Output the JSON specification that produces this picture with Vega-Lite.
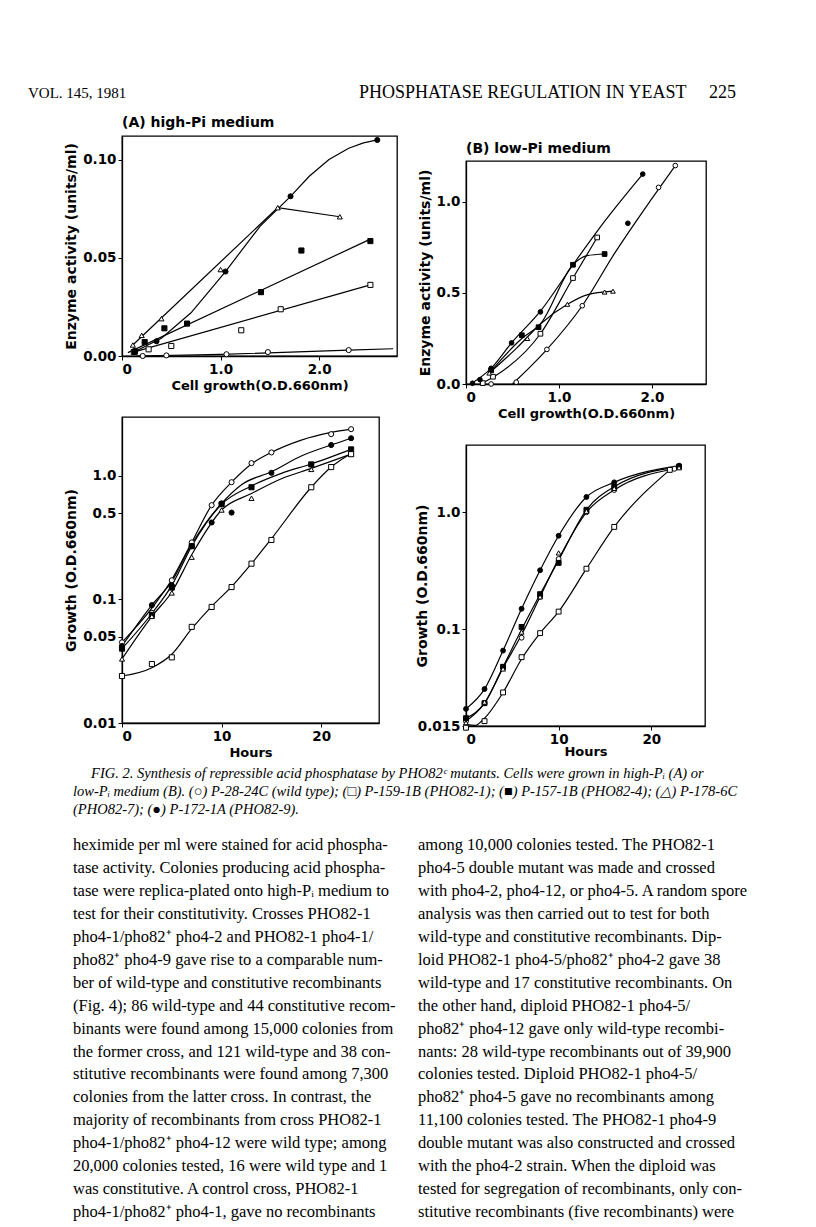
{
  "$schema": "https://vega.github.io/schema/vega-lite/v6.json",
  "background": "white",
  "autosize": {"type": "pad"},
  "padding": {"left": 28, "top": 71, "right": 0, "bottom": 0},
  "spacing": 0,
  "datasets": {
    "header": [
      {"col": "L", "text": "VOL. 145, 1981"},
      {"col": "R", "text": "PHOSPHATASE REGULATION IN YEAST\u00a0\u00a0\u00a0\u00a0\u00a0225"}
    ],
    "caption": [
      {"col": "C", "line": 1, "text": "\u200b\u00a0\u00a0\u00a0\u00a0\u00a0FIG. 2. Synthesis of repressible acid phosphatase by PHO82\u1d9c mutants. Cells were grown in high-P\u1d62 (A) or"},
      {"col": "C", "line": 2, "text": "low-P\u1d62 medium (B). (\u25cb) P-28-24C (wild type); (\u25a1) P-159-1B (PHO82-1); (\u25a0) P-157-1B (PHO82-4); (\u25b3) P-178-6C"},
      {"col": "C", "line": 3, "text": "(PHO82-7); (\u25cf) P-172-1A (PHO82-9)."}
    ],
    "body": [
      {"col": "L", "line": 1, "text": "heximide per ml were stained for acid phospha-"},
      {"col": "L", "line": 2, "text": "tase activity. Colonies producing acid phospha-"},
      {"col": "L", "line": 3, "text": "tase were replica-plated onto high-P\u1d62 medium to"},
      {"col": "L", "line": 4, "text": "test for their constitutivity. Crosses PHO82-1"},
      {"col": "L", "line": 5, "text": "pho4-1/pho82\u207a pho4-2 and PHO82-1 pho4-1/"},
      {"col": "L", "line": 6, "text": "pho82\u207a pho4-9 gave rise to a comparable num-"},
      {"col": "L", "line": 7, "text": "ber of wild-type and constitutive recombinants"},
      {"col": "L", "line": 8, "text": "(Fig. 4); 86 wild-type and 44 constitutive recom-"},
      {"col": "L", "line": 9, "text": "binants were found among 15,000 colonies from"},
      {"col": "L", "line": 10, "text": "the former cross, and 121 wild-type and 38 con-"},
      {"col": "L", "line": 11, "text": "stitutive recombinants were found among 7,300"},
      {"col": "L", "line": 12, "text": "colonies from the latter cross. In contrast, the"},
      {"col": "L", "line": 13, "text": "majority of recombinants from cross PHO82-1"},
      {"col": "L", "line": 14, "text": "pho4-1/pho82\u207a pho4-12 were wild type; among"},
      {"col": "L", "line": 15, "text": "20,000 colonies tested, 16 were wild type and 1"},
      {"col": "L", "line": 16, "text": "was constitutive. A control cross, PHO82-1"},
      {"col": "L", "line": 17, "text": "pho4-1/pho82\u207a pho4-1, gave no recombinants"},
      {"col": "R", "line": 1, "text": "among 10,000 colonies tested. The PHO82-1"},
      {"col": "R", "line": 2, "text": "pho4-5 double mutant was made and crossed"},
      {"col": "R", "line": 3, "text": "with pho4-2, pho4-12, or pho4-5. A random spore"},
      {"col": "R", "line": 4, "text": "analysis was then carried out to test for both"},
      {"col": "R", "line": 5, "text": "wild-type and constitutive recombinants. Dip-"},
      {"col": "R", "line": 6, "text": "loid PHO82-1 pho4-5/pho82\u207a pho4-2 gave 38"},
      {"col": "R", "line": 7, "text": "wild-type and 17 constitutive recombinants. On"},
      {"col": "R", "line": 8, "text": "the other hand, diploid PHO82-1 pho4-5/"},
      {"col": "R", "line": 9, "text": "pho82\u207a pho4-12 gave only wild-type recombi-"},
      {"col": "R", "line": 10, "text": "nants: 28 wild-type recombinants out of 39,900"},
      {"col": "R", "line": 11, "text": "colonies tested. Diploid PHO82-1 pho4-5/"},
      {"col": "R", "line": 12, "text": "pho82\u207a pho4-5 gave no recombinants among"},
      {"col": "R", "line": 13, "text": "11,100 colonies tested. The PHO82-1 pho4-9"},
      {"col": "R", "line": 14, "text": "double mutant was also constructed and crossed"},
      {"col": "R", "line": 15, "text": "with the pho4-2 strain. When the diploid was"},
      {"col": "R", "line": 16, "text": "tested for segregation of recombinants, only con-"},
      {"col": "R", "line": 17, "text": "stitutive recombinants (five recombinants) were"}
    ],
    "pts": [
      {"panel": "A", "strain": "wild type", "x": 0.21, "y": 0.0},
      {"panel": "A", "strain": "wild type", "x": 0.45, "y": 0.0003},
      {"panel": "A", "strain": "wild type", "x": 1.06, "y": 0.0009},
      {"panel": "A", "strain": "wild type", "x": 1.48, "y": 0.002},
      {"panel": "A", "strain": "wild type", "x": 2.30, "y": 0.003},
      {"panel": "A", "strain": "PHO82-1", "x": 0.12, "y": 0.002},
      {"panel": "A", "strain": "PHO82-1", "x": 0.27, "y": 0.0034},
      {"panel": "A", "strain": "PHO82-1", "x": 0.50, "y": 0.0051},
      {"panel": "A", "strain": "PHO82-1", "x": 1.21, "y": 0.0131},
      {"panel": "A", "strain": "PHO82-1", "x": 1.61, "y": 0.0238},
      {"panel": "A", "strain": "PHO82-1", "x": 2.52, "y": 0.0362},
      {"panel": "A", "strain": "PHO82-4", "x": 0.13, "y": 0.0022},
      {"panel": "A", "strain": "PHO82-4", "x": 0.23, "y": 0.0071},
      {"panel": "A", "strain": "PHO82-4", "x": 0.43, "y": 0.0141},
      {"panel": "A", "strain": "PHO82-4", "x": 0.66, "y": 0.0165},
      {"panel": "A", "strain": "PHO82-4", "x": 1.41, "y": 0.0325},
      {"panel": "A", "strain": "PHO82-4", "x": 1.82, "y": 0.0537},
      {"panel": "A", "strain": "PHO82-4", "x": 2.52, "y": 0.0585},
      {"panel": "A", "strain": "PHO82-7", "x": 0.11, "y": 0.0056},
      {"panel": "A", "strain": "PHO82-7", "x": 0.20, "y": 0.0105},
      {"panel": "A", "strain": "PHO82-7", "x": 0.40, "y": 0.019},
      {"panel": "A", "strain": "PHO82-7", "x": 1.00, "y": 0.044},
      {"panel": "A", "strain": "PHO82-7", "x": 1.58, "y": 0.0755},
      {"panel": "A", "strain": "PHO82-7", "x": 2.21, "y": 0.0709},
      {"panel": "A", "strain": "PHO82-9", "x": 0.13, "y": 0.0026},
      {"panel": "A", "strain": "PHO82-9", "x": 0.35, "y": 0.0075},
      {"panel": "A", "strain": "PHO82-9", "x": 1.05, "y": 0.043},
      {"panel": "A", "strain": "PHO82-9", "x": 1.71, "y": 0.0813},
      {"panel": "A", "strain": "PHO82-9", "x": 2.59, "y": 0.110},

      {"panel": "B", "strain": "wild type", "x": 0.27, "y": 0.0},
      {"panel": "B", "strain": "wild type", "x": 0.54, "y": 0.01},
      {"panel": "B", "strain": "wild type", "x": 0.87, "y": 0.19},
      {"panel": "B", "strain": "wild type", "x": 1.25, "y": 0.43},
      {"panel": "B", "strain": "wild type", "x": 2.07, "y": 1.08},
      {"panel": "B", "strain": "wild type", "x": 2.25, "y": 1.20},
      {"panel": "B", "strain": "PHO82-1", "x": 0.18, "y": 0.005},
      {"panel": "B", "strain": "PHO82-1", "x": 0.29, "y": 0.04},
      {"panel": "B", "strain": "PHO82-1", "x": 0.80, "y": 0.276},
      {"panel": "B", "strain": "PHO82-1", "x": 1.15, "y": 0.582},
      {"panel": "B", "strain": "PHO82-1", "x": 1.41, "y": 0.805},
      {"panel": "B", "strain": "PHO82-4", "x": 0.27, "y": 0.075},
      {"panel": "B", "strain": "PHO82-4", "x": 0.60, "y": 0.268},
      {"panel": "B", "strain": "PHO82-4", "x": 0.78, "y": 0.312},
      {"panel": "B", "strain": "PHO82-4", "x": 1.15, "y": 0.655},
      {"panel": "B", "strain": "PHO82-4", "x": 1.49, "y": 0.714},
      {"panel": "B", "strain": "PHO82-7", "x": 0.25, "y": 0.06},
      {"panel": "B", "strain": "PHO82-7", "x": 0.66, "y": 0.25},
      {"panel": "B", "strain": "PHO82-7", "x": 1.09, "y": 0.438},
      {"panel": "B", "strain": "PHO82-7", "x": 1.49, "y": 0.505},
      {"panel": "B", "strain": "PHO82-7", "x": 1.58, "y": 0.51},
      {"panel": "B", "strain": "PHO82-9", "x": 0.07, "y": 0.004},
      {"panel": "B", "strain": "PHO82-9", "x": 0.15, "y": 0.024},
      {"panel": "B", "strain": "PHO82-9", "x": 0.27, "y": 0.086},
      {"panel": "B", "strain": "PHO82-9", "x": 0.49, "y": 0.226},
      {"panel": "B", "strain": "PHO82-9", "x": 0.80, "y": 0.396},
      {"panel": "B", "strain": "PHO82-9", "x": 1.74, "y": 0.883},
      {"panel": "B", "strain": "PHO82-9", "x": 1.90, "y": 1.153},

      {"panel": "C", "strain": "wild type", "x": 0, "y": 0.045},
      {"panel": "C", "strain": "wild type", "x": 3, "y": 0.078},
      {"panel": "C", "strain": "wild type", "x": 5, "y": 0.143},
      {"panel": "C", "strain": "wild type", "x": 7, "y": 0.29},
      {"panel": "C", "strain": "wild type", "x": 9, "y": 0.58},
      {"panel": "C", "strain": "wild type", "x": 11, "y": 0.89},
      {"panel": "C", "strain": "wild type", "x": 13, "y": 1.27},
      {"panel": "C", "strain": "wild type", "x": 15, "y": 1.55},
      {"panel": "C", "strain": "wild type", "x": 21, "y": 2.18},
      {"panel": "C", "strain": "wild type", "x": 23, "y": 2.39},
      {"panel": "C", "strain": "PHO82-9", "x": 0, "y": 0.042},
      {"panel": "C", "strain": "PHO82-9", "x": 3, "y": 0.090},
      {"panel": "C", "strain": "PHO82-9", "x": 5, "y": 0.13},
      {"panel": "C", "strain": "PHO82-9", "x": 7, "y": 0.27},
      {"panel": "C", "strain": "PHO82-9", "x": 9, "y": 0.42},
      {"panel": "C", "strain": "PHO82-9", "x": 10, "y": 0.60},
      {"panel": "C", "strain": "PHO82-9", "x": 11, "y": 0.505},
      {"panel": "C", "strain": "PHO82-9", "x": 15, "y": 1.06},
      {"panel": "C", "strain": "PHO82-9", "x": 21, "y": 1.78},
      {"panel": "C", "strain": "PHO82-9", "x": 23, "y": 2.02},
      {"panel": "C", "strain": "PHO82-4", "x": 0, "y": 0.040},
      {"panel": "C", "strain": "PHO82-4", "x": 3, "y": 0.075},
      {"panel": "C", "strain": "PHO82-4", "x": 5, "y": 0.125},
      {"panel": "C", "strain": "PHO82-4", "x": 7, "y": 0.27},
      {"panel": "C", "strain": "PHO82-4", "x": 10, "y": 0.59},
      {"panel": "C", "strain": "PHO82-4", "x": 13, "y": 0.81},
      {"panel": "C", "strain": "PHO82-4", "x": 19, "y": 1.24},
      {"panel": "C", "strain": "PHO82-4", "x": 23, "y": 1.64},
      {"panel": "C", "strain": "PHO82-7", "x": 0, "y": 0.033},
      {"panel": "C", "strain": "PHO82-7", "x": 3, "y": 0.073},
      {"panel": "C", "strain": "PHO82-7", "x": 5, "y": 0.113},
      {"panel": "C", "strain": "PHO82-7", "x": 7, "y": 0.22},
      {"panel": "C", "strain": "PHO82-7", "x": 10, "y": 0.53},
      {"panel": "C", "strain": "PHO82-7", "x": 13, "y": 0.66},
      {"panel": "C", "strain": "PHO82-7", "x": 19, "y": 1.13},
      {"panel": "C", "strain": "PHO82-7", "x": 23, "y": 1.50},
      {"panel": "C", "strain": "PHO82-1", "x": 0, "y": 0.024},
      {"panel": "C", "strain": "PHO82-1", "x": 3, "y": 0.030},
      {"panel": "C", "strain": "PHO82-1", "x": 5, "y": 0.034},
      {"panel": "C", "strain": "PHO82-1", "x": 7, "y": 0.060},
      {"panel": "C", "strain": "PHO82-1", "x": 9, "y": 0.087},
      {"panel": "C", "strain": "PHO82-1", "x": 11, "y": 0.126},
      {"panel": "C", "strain": "PHO82-1", "x": 13, "y": 0.195},
      {"panel": "C", "strain": "PHO82-1", "x": 15, "y": 0.303},
      {"panel": "C", "strain": "PHO82-1", "x": 19, "y": 0.81},
      {"panel": "C", "strain": "PHO82-1", "x": 21, "y": 1.18},
      {"panel": "C", "strain": "PHO82-1", "x": 23, "y": 1.50},

      {"panel": "D", "strain": "PHO82-9", "x": 0, "y": 0.021},
      {"panel": "D", "strain": "PHO82-9", "x": 2, "y": 0.031},
      {"panel": "D", "strain": "PHO82-9", "x": 4, "y": 0.066},
      {"panel": "D", "strain": "PHO82-9", "x": 6, "y": 0.15},
      {"panel": "D", "strain": "PHO82-9", "x": 8, "y": 0.32},
      {"panel": "D", "strain": "PHO82-9", "x": 10, "y": 0.63},
      {"panel": "D", "strain": "PHO82-9", "x": 13, "y": 1.35},
      {"panel": "D", "strain": "PHO82-9", "x": 16, "y": 1.80},
      {"panel": "D", "strain": "PHO82-9", "x": 23, "y": 2.50},
      {"panel": "D", "strain": "wild type", "x": 0, "y": 0.0165},
      {"panel": "D", "strain": "wild type", "x": 2, "y": 0.0235},
      {"panel": "D", "strain": "wild type", "x": 4, "y": 0.047},
      {"panel": "D", "strain": "wild type", "x": 6, "y": 0.085},
      {"panel": "D", "strain": "wild type", "x": 8, "y": 0.19},
      {"panel": "D", "strain": "wild type", "x": 10, "y": 0.40},
      {"panel": "D", "strain": "wild type", "x": 13, "y": 1.0},
      {"panel": "D", "strain": "wild type", "x": 16, "y": 1.55},
      {"panel": "D", "strain": "wild type", "x": 22.5, "y": 2.35},
      {"panel": "D", "strain": "PHO82-4", "x": 0, "y": 0.0175},
      {"panel": "D", "strain": "PHO82-4", "x": 2, "y": 0.0235},
      {"panel": "D", "strain": "PHO82-4", "x": 4, "y": 0.048},
      {"panel": "D", "strain": "PHO82-4", "x": 6, "y": 0.105},
      {"panel": "D", "strain": "PHO82-4", "x": 8, "y": 0.20},
      {"panel": "D", "strain": "PHO82-4", "x": 10, "y": 0.37},
      {"panel": "D", "strain": "PHO82-4", "x": 13, "y": 1.05},
      {"panel": "D", "strain": "PHO82-4", "x": 16, "y": 1.65},
      {"panel": "D", "strain": "PHO82-4", "x": 23, "y": 2.45},
      {"panel": "D", "strain": "PHO82-7", "x": 0, "y": 0.016},
      {"panel": "D", "strain": "PHO82-7", "x": 2, "y": 0.024},
      {"panel": "D", "strain": "PHO82-7", "x": 4, "y": 0.046},
      {"panel": "D", "strain": "PHO82-7", "x": 6, "y": 0.095},
      {"panel": "D", "strain": "PHO82-7", "x": 8, "y": 0.19},
      {"panel": "D", "strain": "PHO82-7", "x": 10, "y": 0.45},
      {"panel": "D", "strain": "PHO82-7", "x": 13, "y": 1.02},
      {"panel": "D", "strain": "PHO82-7", "x": 16, "y": 1.60},
      {"panel": "D", "strain": "PHO82-7", "x": 23, "y": 2.40},
      {"panel": "D", "strain": "PHO82-1", "x": 0, "y": 0.0145},
      {"panel": "D", "strain": "PHO82-1", "x": 2, "y": 0.0165},
      {"panel": "D", "strain": "PHO82-1", "x": 4, "y": 0.029},
      {"panel": "D", "strain": "PHO82-1", "x": 6, "y": 0.058},
      {"panel": "D", "strain": "PHO82-1", "x": 8, "y": 0.093},
      {"panel": "D", "strain": "PHO82-1", "x": 10, "y": 0.142},
      {"panel": "D", "strain": "PHO82-1", "x": 13, "y": 0.33},
      {"panel": "D", "strain": "PHO82-1", "x": 16, "y": 0.75},
      {"panel": "D", "strain": "PHO82-1", "x": 22, "y": 2.30}
    ],
    "curves": [
      {"panel": "A", "strain": "wild type", "x": 0.15, "y": 0.0},
      {"panel": "A", "strain": "wild type", "x": 1.0, "y": 0.0008},
      {"panel": "A", "strain": "wild type", "x": 2.3, "y": 0.003},
      {"panel": "A", "strain": "wild type", "x": 2.75, "y": 0.0037},
      {"panel": "A", "strain": "PHO82-1", "x": 0.1, "y": 0.0017},
      {"panel": "A", "strain": "PHO82-1", "x": 2.52, "y": 0.0362},
      {"panel": "A", "strain": "PHO82-4", "x": 0.06, "y": 0.0017},
      {"panel": "A", "strain": "PHO82-4", "x": 2.52, "y": 0.0595},
      {"panel": "A", "strain": "PHO82-7", "x": 0.11, "y": 0.0056},
      {"panel": "A", "strain": "PHO82-7", "x": 1.58, "y": 0.0755},
      {"panel": "A", "strain": "PHO82-7", "x": 2.21, "y": 0.0709},
      {"panel": "A", "strain": "PHO82-9", "x": 0.1, "y": 0.0015},
      {"panel": "A", "strain": "PHO82-9", "x": 0.4, "y": 0.009},
      {"panel": "A", "strain": "PHO82-9", "x": 0.7, "y": 0.022},
      {"panel": "A", "strain": "PHO82-9", "x": 1.05, "y": 0.043},
      {"panel": "A", "strain": "PHO82-9", "x": 1.4, "y": 0.066},
      {"panel": "A", "strain": "PHO82-9", "x": 1.71, "y": 0.0813},
      {"panel": "A", "strain": "PHO82-9", "x": 1.9, "y": 0.0915},
      {"panel": "A", "strain": "PHO82-9", "x": 2.1, "y": 0.100},
      {"panel": "A", "strain": "PHO82-9", "x": 2.3, "y": 0.1058},
      {"panel": "A", "strain": "PHO82-9", "x": 2.45, "y": 0.1085},
      {"panel": "A", "strain": "PHO82-9", "x": 2.59, "y": 0.110},

      {"panel": "B", "strain": "wild type", "x": 0.5, "y": 0.0},
      {"panel": "B", "strain": "wild type", "x": 0.87, "y": 0.19},
      {"panel": "B", "strain": "wild type", "x": 1.25, "y": 0.43},
      {"panel": "B", "strain": "wild type", "x": 1.6, "y": 0.72},
      {"panel": "B", "strain": "wild type", "x": 2.0, "y": 1.02},
      {"panel": "B", "strain": "wild type", "x": 2.25, "y": 1.2},
      {"panel": "B", "strain": "PHO82-1", "x": 0.15, "y": 0.0},
      {"panel": "B", "strain": "PHO82-1", "x": 0.3, "y": 0.04},
      {"panel": "B", "strain": "PHO82-1", "x": 0.8, "y": 0.276},
      {"panel": "B", "strain": "PHO82-1", "x": 1.15, "y": 0.582},
      {"panel": "B", "strain": "PHO82-1", "x": 1.41, "y": 0.805},
      {"panel": "B", "strain": "PHO82-4", "x": 0.25, "y": 0.06},
      {"panel": "B", "strain": "PHO82-4", "x": 0.6, "y": 0.25},
      {"panel": "B", "strain": "PHO82-4", "x": 0.8, "y": 0.33},
      {"panel": "B", "strain": "PHO82-4", "x": 1.15, "y": 0.655},
      {"panel": "B", "strain": "PHO82-4", "x": 1.3, "y": 0.705},
      {"panel": "B", "strain": "PHO82-4", "x": 1.49, "y": 0.714},
      {"panel": "B", "strain": "PHO82-7", "x": 0.25, "y": 0.06},
      {"panel": "B", "strain": "PHO82-7", "x": 0.55, "y": 0.2},
      {"panel": "B", "strain": "PHO82-7", "x": 0.8, "y": 0.33},
      {"panel": "B", "strain": "PHO82-7", "x": 1.09, "y": 0.438},
      {"panel": "B", "strain": "PHO82-7", "x": 1.3, "y": 0.49},
      {"panel": "B", "strain": "PHO82-7", "x": 1.58, "y": 0.51},
      {"panel": "B", "strain": "PHO82-9", "x": 0.05, "y": 0.0},
      {"panel": "B", "strain": "PHO82-9", "x": 0.27, "y": 0.086},
      {"panel": "B", "strain": "PHO82-9", "x": 0.49, "y": 0.226},
      {"panel": "B", "strain": "PHO82-9", "x": 0.8, "y": 0.40},
      {"panel": "B", "strain": "PHO82-9", "x": 1.15, "y": 0.655},
      {"panel": "B", "strain": "PHO82-9", "x": 1.5, "y": 0.9},
      {"panel": "B", "strain": "PHO82-9", "x": 1.9, "y": 1.153},

      {"panel": "C", "strain": "wild type", "x": 0, "y": 0.045},
      {"panel": "C", "strain": "wild type", "x": 3, "y": 0.085},
      {"panel": "C", "strain": "wild type", "x": 5, "y": 0.145},
      {"panel": "C", "strain": "wild type", "x": 7, "y": 0.29},
      {"panel": "C", "strain": "wild type", "x": 9, "y": 0.58},
      {"panel": "C", "strain": "wild type", "x": 11, "y": 0.89},
      {"panel": "C", "strain": "wild type", "x": 13, "y": 1.25},
      {"panel": "C", "strain": "wild type", "x": 15, "y": 1.55},
      {"panel": "C", "strain": "wild type", "x": 18, "y": 1.95},
      {"panel": "C", "strain": "wild type", "x": 21, "y": 2.25},
      {"panel": "C", "strain": "wild type", "x": 23, "y": 2.39},
      {"panel": "C", "strain": "PHO82-9", "x": 0, "y": 0.042},
      {"panel": "C", "strain": "PHO82-9", "x": 3, "y": 0.09},
      {"panel": "C", "strain": "PHO82-9", "x": 5, "y": 0.14},
      {"panel": "C", "strain": "PHO82-9", "x": 7, "y": 0.28},
      {"panel": "C", "strain": "PHO82-9", "x": 10, "y": 0.6},
      {"panel": "C", "strain": "PHO82-9", "x": 12, "y": 0.85},
      {"panel": "C", "strain": "PHO82-9", "x": 15, "y": 1.08},
      {"panel": "C", "strain": "PHO82-9", "x": 18, "y": 1.45},
      {"panel": "C", "strain": "PHO82-9", "x": 21, "y": 1.78},
      {"panel": "C", "strain": "PHO82-9", "x": 23, "y": 2.02},
      {"panel": "C", "strain": "PHO82-4", "x": 0, "y": 0.040},
      {"panel": "C", "strain": "PHO82-4", "x": 3, "y": 0.077},
      {"panel": "C", "strain": "PHO82-4", "x": 5, "y": 0.13},
      {"panel": "C", "strain": "PHO82-4", "x": 7, "y": 0.27},
      {"panel": "C", "strain": "PHO82-4", "x": 10, "y": 0.59},
      {"panel": "C", "strain": "PHO82-4", "x": 13, "y": 0.83},
      {"panel": "C", "strain": "PHO82-4", "x": 16, "y": 1.05},
      {"panel": "C", "strain": "PHO82-4", "x": 19, "y": 1.25},
      {"panel": "C", "strain": "PHO82-4", "x": 23, "y": 1.64},
      {"panel": "C", "strain": "PHO82-7", "x": 0, "y": 0.033},
      {"panel": "C", "strain": "PHO82-7", "x": 3, "y": 0.073},
      {"panel": "C", "strain": "PHO82-7", "x": 5, "y": 0.115},
      {"panel": "C", "strain": "PHO82-7", "x": 7, "y": 0.23},
      {"panel": "C", "strain": "PHO82-7", "x": 10, "y": 0.53},
      {"panel": "C", "strain": "PHO82-7", "x": 13, "y": 0.72},
      {"panel": "C", "strain": "PHO82-7", "x": 16, "y": 0.95},
      {"panel": "C", "strain": "PHO82-7", "x": 19, "y": 1.15},
      {"panel": "C", "strain": "PHO82-7", "x": 23, "y": 1.50},
      {"panel": "C", "strain": "PHO82-1", "x": 0, "y": 0.024},
      {"panel": "C", "strain": "PHO82-1", "x": 3, "y": 0.028},
      {"panel": "C", "strain": "PHO82-1", "x": 5, "y": 0.036},
      {"panel": "C", "strain": "PHO82-1", "x": 7, "y": 0.058},
      {"panel": "C", "strain": "PHO82-1", "x": 9, "y": 0.088},
      {"panel": "C", "strain": "PHO82-1", "x": 11, "y": 0.127},
      {"panel": "C", "strain": "PHO82-1", "x": 13, "y": 0.195},
      {"panel": "C", "strain": "PHO82-1", "x": 15, "y": 0.31},
      {"panel": "C", "strain": "PHO82-1", "x": 19, "y": 0.81},
      {"panel": "C", "strain": "PHO82-1", "x": 21, "y": 1.18},
      {"panel": "C", "strain": "PHO82-1", "x": 23, "y": 1.52},

      {"panel": "D", "strain": "PHO82-9", "x": 0, "y": 0.021},
      {"panel": "D", "strain": "PHO82-9", "x": 2, "y": 0.031},
      {"panel": "D", "strain": "PHO82-9", "x": 4, "y": 0.066},
      {"panel": "D", "strain": "PHO82-9", "x": 6, "y": 0.15},
      {"panel": "D", "strain": "PHO82-9", "x": 8, "y": 0.32},
      {"panel": "D", "strain": "PHO82-9", "x": 10, "y": 0.63},
      {"panel": "D", "strain": "PHO82-9", "x": 13, "y": 1.35},
      {"panel": "D", "strain": "PHO82-9", "x": 16, "y": 1.80},
      {"panel": "D", "strain": "PHO82-9", "x": 23, "y": 2.50},
      {"panel": "D", "strain": "wild type", "x": 0, "y": 0.0165},
      {"panel": "D", "strain": "wild type", "x": 2, "y": 0.0235},
      {"panel": "D", "strain": "wild type", "x": 4, "y": 0.047},
      {"panel": "D", "strain": "wild type", "x": 6, "y": 0.09},
      {"panel": "D", "strain": "wild type", "x": 8, "y": 0.19},
      {"panel": "D", "strain": "wild type", "x": 10, "y": 0.40},
      {"panel": "D", "strain": "wild type", "x": 13, "y": 1.0},
      {"panel": "D", "strain": "wild type", "x": 16, "y": 1.55},
      {"panel": "D", "strain": "wild type", "x": 22.5, "y": 2.35},
      {"panel": "D", "strain": "PHO82-4", "x": 0, "y": 0.0175},
      {"panel": "D", "strain": "PHO82-4", "x": 2, "y": 0.0235},
      {"panel": "D", "strain": "PHO82-4", "x": 4, "y": 0.048},
      {"panel": "D", "strain": "PHO82-4", "x": 6, "y": 0.10},
      {"panel": "D", "strain": "PHO82-4", "x": 8, "y": 0.20},
      {"panel": "D", "strain": "PHO82-4", "x": 10, "y": 0.39},
      {"panel": "D", "strain": "PHO82-4", "x": 13, "y": 1.05},
      {"panel": "D", "strain": "PHO82-4", "x": 16, "y": 1.65},
      {"panel": "D", "strain": "PHO82-4", "x": 23, "y": 2.45},
      {"panel": "D", "strain": "PHO82-1", "x": 0, "y": 0.0155},
      {"panel": "D", "strain": "PHO82-1", "x": 1, "y": 0.0152},
      {"panel": "D", "strain": "PHO82-1", "x": 2, "y": 0.0175},
      {"panel": "D", "strain": "PHO82-1", "x": 4, "y": 0.029},
      {"panel": "D", "strain": "PHO82-1", "x": 6, "y": 0.056},
      {"panel": "D", "strain": "PHO82-1", "x": 8, "y": 0.093},
      {"panel": "D", "strain": "PHO82-1", "x": 10, "y": 0.142},
      {"panel": "D", "strain": "PHO82-1", "x": 13, "y": 0.33},
      {"panel": "D", "strain": "PHO82-1", "x": 16, "y": 0.75},
      {"panel": "D", "strain": "PHO82-1", "x": 22, "y": 2.30}
    ]
  },
  "vconcat": [
    {
      "width": 708,
      "height": 44,
      "view": {"stroke": null},
      "data": {"name": "header"},
      "encoding": {
        "x": {"field": "col", "type": "nominal", "scale": {"type": "point", "padding": 0}, "axis": null},
        "text": {"field": "text"}
      },
      "layer": [
        {"transform": [{"filter": "datum.col == 'L'"}], "mark": {"type": "text", "align": "left", "font": "Liberation Serif", "fontSize": 15, "color": "black"}},
        {"transform": [{"filter": "datum.col == 'R'"}], "mark": {"type": "text", "align": "right", "font": "Liberation Serif", "fontSize": 18, "color": "black"}}
      ]
    },
    {
      "spacing": 16,
      "hconcat": [
        {"width": 20, "height": 1, "view": {"stroke": null}, "data": {"values": []}, "mark": "point", "encoding": {}},
        {
          "spacing": 22,
          "vconcat": [
            {
              "width": 275,
              "height": 220,
              "title": {"text": "(A) high-Pi medium", "anchor": "start", "frame": "group", "offset": 5},
              "layer": [
                {
                  "data": {"name": "curves"},
                  "transform": [{"filter": "datum.panel == 'A'"}],
                  "mark": {"type": "line", "color": "black", "strokeWidth": 1.2, "interpolate": "linear"},
                  "encoding": {
                    "x": {"field": "x", "type": "quantitative", "scale": {"domain": [0, 2.79], "nice": false, "zero": false},
                      "axis": {"title": "Cell growth(O.D.660nm)", "values": [0, 1, 2], "labelExpr": "datum.value == 0 ? '0' : format(datum.value, '.1f')"}},
                    "y": {"field": "y", "type": "quantitative", "scale": {"domain": [0, 0.112], "nice": false},
                      "axis": {"title": "Enzyme activity (units/ml)", "values": [0, 0.05, 0.1], "format": ".2f"}},
                    "detail": {"field": "strain"},
                    "order": {"field": "x"}
                  }
                },
                {
                  "data": {"name": "pts"},
                  "transform": [{"filter": "datum.panel == 'A'"}],
                  "mark": {"type": "point", "stroke": "black", "strokeWidth": 1, "size": 26, "opacity": 1},
                  "encoding": {
                    "x": {"field": "x", "type": "quantitative"},
                    "y": {"field": "y", "type": "quantitative"},
                    "shape": {"field": "strain", "type": "nominal", "legend": null,
                      "scale": {"domain": ["wild type", "PHO82-1", "PHO82-4", "PHO82-7", "PHO82-9"], "range": ["circle", "square", "square", "triangle-up", "circle"]}},
                    "fill": {"field": "strain", "type": "nominal", "legend": null,
                      "scale": {"domain": ["wild type", "PHO82-1", "PHO82-4", "PHO82-7", "PHO82-9"], "range": ["white", "white", "black", "white", "black"]}}
                  }
                }
              ]
            },
            {
              "width": 257,
              "height": 306,
              "layer": [
                {
                  "data": {"name": "curves"},
                  "transform": [{"filter": "datum.panel == 'C'"}],
                  "mark": {"type": "line", "color": "black", "strokeWidth": 1.2, "interpolate": "monotone"},
                  "encoding": {
                    "x": {"field": "x", "type": "quantitative", "scale": {"domain": [0, 25.8], "nice": false},
                      "axis": {"title": "Hours", "values": [0, 10, 20]}},
                    "y": {"field": "y", "type": "quantitative", "scale": {"type": "log", "domain": [0.01, 3.0], "nice": false},
                      "axis": {"title": "Growth (O.D.660nm)", "values": [0.01, 0.05, 0.1, 0.5, 1], "labelExpr": "datum.value == 1 ? '1.0' : format(datum.value, '~g')"}},
                    "detail": {"field": "strain"},
                    "order": {"field": "x"}
                  }
                },
                {
                  "data": {"name": "pts"},
                  "transform": [{"filter": "datum.panel == 'C'"}],
                  "mark": {"type": "point", "stroke": "black", "strokeWidth": 1, "size": 26, "opacity": 1},
                  "encoding": {
                    "x": {"field": "x", "type": "quantitative"},
                    "y": {"field": "y", "type": "quantitative"},
                    "shape": {"field": "strain", "type": "nominal", "legend": null},
                    "fill": {"field": "strain", "type": "nominal", "legend": null}
                  }
                }
              ]
            }
          ]
        },
        {
          "spacing": 22,
          "vconcat": [
            {
              "spacing": 4,
              "vconcat": [
                {"width": 240, "height": 1, "view": {"stroke": null}, "data": {"values": []}, "mark": "point", "encoding": {}},
                {
                  "width": 240,
                  "height": 223,
                  "title": {"text": "(B) low-Pi medium", "anchor": "start", "frame": "group", "offset": 5},
                  "layer": [
                    {
                      "data": {"name": "curves"},
                      "transform": [{"filter": "datum.panel == 'B'"}],
                      "mark": {"type": "line", "color": "black", "strokeWidth": 1.2, "interpolate": "monotone"},
                      "encoding": {
                        "x": {"field": "x", "type": "quantitative", "scale": {"domain": [0, 2.58], "nice": false, "zero": false},
                          "axis": {"title": "Cell growth(O.D.660nm)", "values": [0, 1, 2], "labelExpr": "datum.value == 0 ? '0' : format(datum.value, '.1f')"}},
                        "y": {"field": "y", "type": "quantitative", "scale": {"domain": [0, 1.225], "nice": false},
                          "axis": {"title": "Enzyme activity (units/ml)", "values": [0, 0.5, 1], "format": ".1f"}},
                        "detail": {"field": "strain"},
                        "order": {"field": "x"}
                      }
                    },
                    {
                      "data": {"name": "pts"},
                      "transform": [{"filter": "datum.panel == 'B'"}],
                      "mark": {"type": "point", "stroke": "black", "strokeWidth": 1, "size": 22, "opacity": 1},
                      "encoding": {
                        "x": {"field": "x", "type": "quantitative"},
                        "y": {"field": "y", "type": "quantitative"},
                        "shape": {"field": "strain", "type": "nominal", "legend": null},
                        "fill": {"field": "strain", "type": "nominal", "legend": null}
                      }
                    }
                  ]
                }
              ]
            },
            {
              "width": 239,
              "height": 281,
              "layer": [
                {
                  "data": {"name": "curves"},
                  "transform": [{"filter": "datum.panel == 'D'"}],
                  "mark": {"type": "line", "color": "black", "strokeWidth": 1.2, "interpolate": "monotone"},
                  "encoding": {
                    "x": {"field": "x", "type": "quantitative", "scale": {"domain": [0, 25.8], "nice": false},
                      "axis": {"title": "Hours", "values": [0, 10, 20], "titlePadding": 0}},
                    "y": {"field": "y", "type": "quantitative", "scale": {"type": "log", "domain": [0.015, 3.75], "nice": false},
                      "axis": {"title": "Growth (O.D.660nm)", "values": [0.015, 0.1, 1], "titlePadding": -12, "labelExpr": "datum.value == 1 ? '1.0' : format(datum.value, '~g')"}},
                    "detail": {"field": "strain"},
                    "order": {"field": "x"}
                  }
                },
                {
                  "data": {"name": "pts"},
                  "transform": [{"filter": "datum.panel == 'D'"}],
                  "mark": {"type": "point", "stroke": "black", "strokeWidth": 1, "size": 24, "opacity": 1},
                  "encoding": {
                    "x": {"field": "x", "type": "quantitative"},
                    "y": {"field": "y", "type": "quantitative"},
                    "shape": {"field": "strain", "type": "nominal", "legend": null},
                    "fill": {"field": "strain", "type": "nominal", "legend": null}
                  }
                }
              ]
            }
          ]
        }
      ]
    },
    {
      "width": 712,
      "height": 62,
      "view": {"stroke": null},
      "data": {"name": "caption"},
      "mark": {"type": "text", "align": "left", "baseline": "middle", "font": "Liberation Serif", "fontStyle": "italic", "fontSize": 14.5, "color": "black"},
      "encoding": {
        "x": {"field": "col", "type": "nominal", "scale": {"type": "point", "align": 0.0632}, "axis": null},
        "y": {"field": "line", "type": "ordinal", "scale": {"type": "point", "padding": 0.7222, "align": 0.5}, "axis": null},
        "text": {"field": "text"}
      }
    },
    {
      "width": 712,
      "height": 395,
      "view": {"stroke": null},
      "data": {"name": "body"},
      "mark": {"type": "text", "align": "left", "baseline": "middle", "font": "Liberation Serif", "fontSize": 16.5, "color": "black"},
      "encoding": {
        "x": {"field": "col", "type": "nominal", "scale": {"type": "point", "padding": 0.5319, "align": 0.1226}, "axis": null},
        "y": {"field": "line", "type": "ordinal", "scale": {"type": "point", "padding": 0.61, "align": 0.79}, "axis": null},
        "text": {"field": "text"}
      }
    }
  ],
  "resolve": {"scale": {"shape": "shared", "fill": "shared"}},
  "config": {
    "font": "DejaVu Sans",
    "view": {"stroke": "black", "strokeWidth": 1.3},
    "axis": {
      "grid": false,
      "domainColor": "black",
      "domainWidth": 1.3,
      "tickColor": "black",
      "tickSize": 4,
      "labelColor": "black",
      "labelFont": "DejaVu Sans",
      "labelFontWeight": "bold",
      "labelFontSize": 13.5,
      "labelPadding": 2,
      "titleColor": "black",
      "titleFont": "DejaVu Sans",
      "titleFontWeight": "bold",
      "titlePadding": 4
    },
    "axisX": {"titleFontSize": 13},
    "axisY": {"titleFontSize": 14},
    "title": {"font": "DejaVu Sans", "fontSize": 14, "fontWeight": "bold", "color": "black"}
  }
}
